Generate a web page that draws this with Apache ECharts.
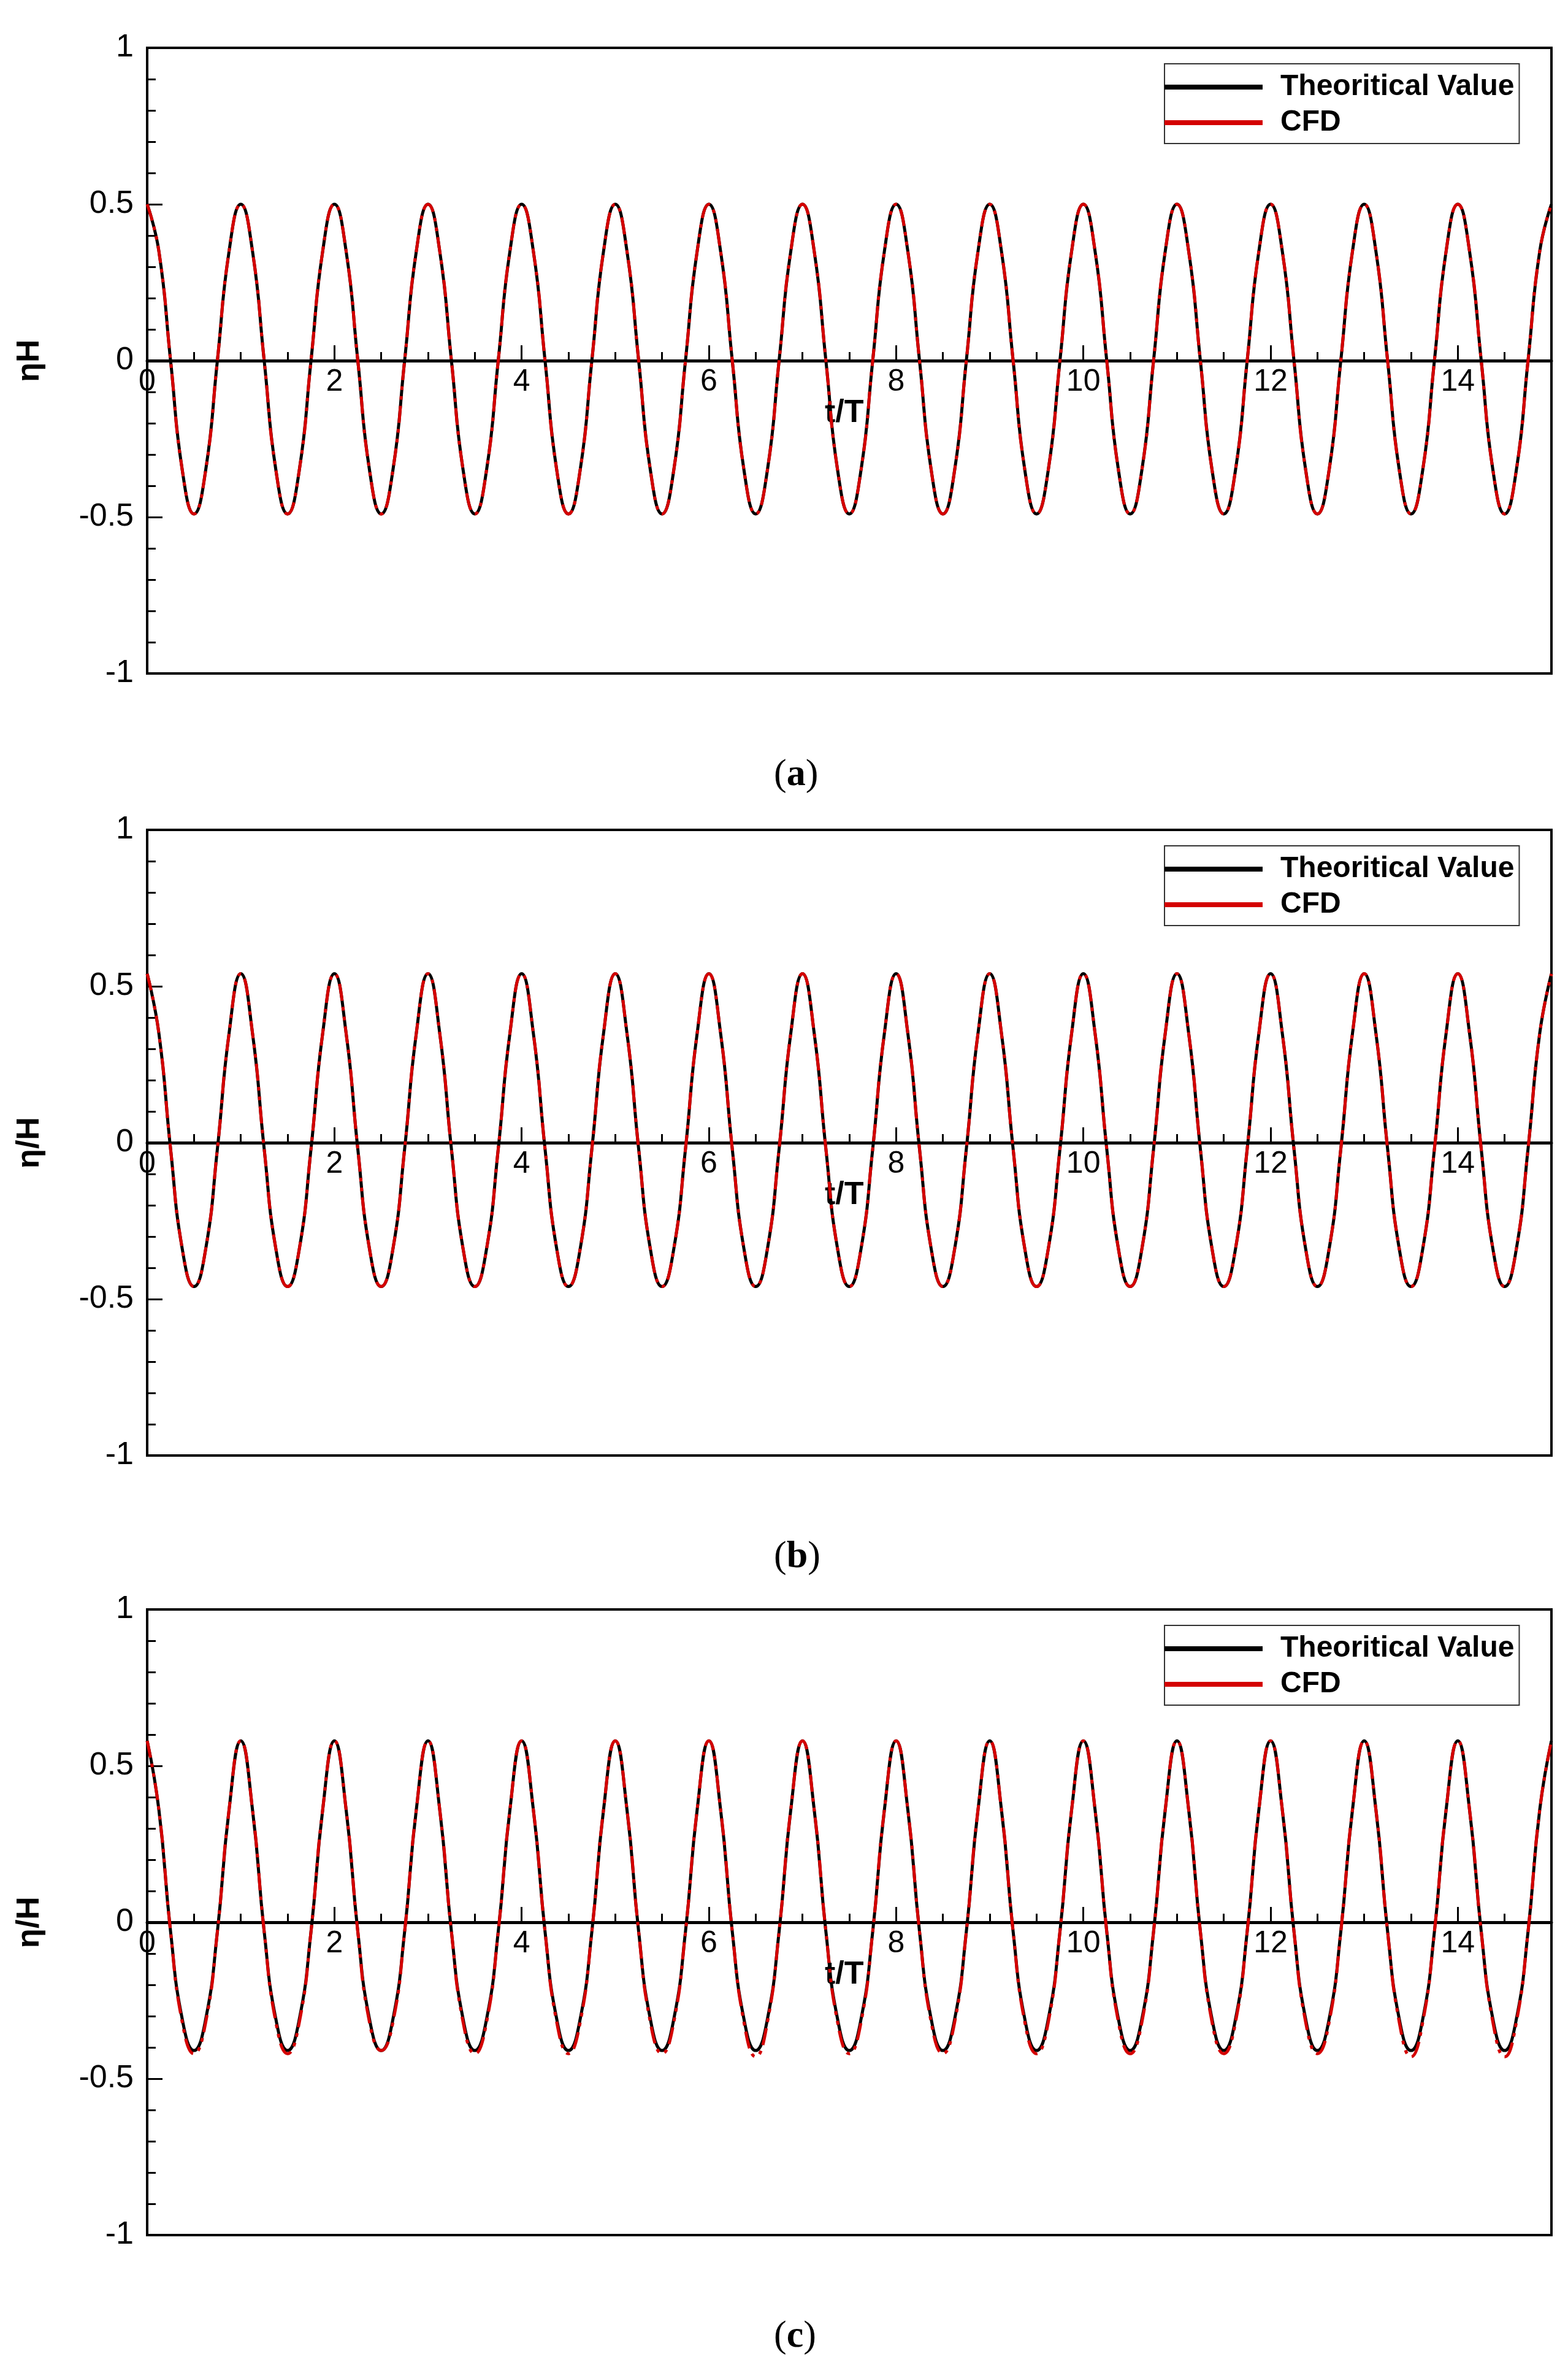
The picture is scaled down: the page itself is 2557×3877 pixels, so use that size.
<!DOCTYPE html>
<html>
<head>
<meta charset="utf-8">
<script src="https://cdn.jsdelivr.net/npm/echarts@6/dist/echarts.min.js"></script>
<style>
  html, body { margin: 0; padding: 0; background: #fff; }
  #chart { width: 2557px; height: 3877px; }
</style>
</head>
<body>
<div id="chart"></div>
<script>
// one sample every 1/8 period, cycles (crest at integer t/T)
var cycles = 15;
var shapeA_theory = [0.50, 0.35, 0.00, -0.35, -0.49, -0.35, 0.00, 0.35];
var shapeA_cfd    = [0.50, 0.35, 0.00, -0.35, -0.49, -0.35, 0.00, 0.35];
var shapeB_theory = [0.54, 0.35, -0.02, -0.34, -0.46, -0.34, -0.02, 0.35];
var shapeB_cfd    = [0.54, 0.35, -0.02, -0.34, -0.46, -0.34, -0.02, 0.35];
var shapeC_theory = [0.58, 0.36, -0.03, -0.31, -0.41, -0.31, -0.03, 0.36];
var shapeC_cfd    = [0.58, 0.36, -0.03, -0.32, -0.42, -0.32, -0.03, 0.36];
var cfdTroughC    = [-0.42, -0.42, -0.41, -0.42, -0.42, -0.42, -0.43, -0.42, -0.42, -0.42, -0.42, -0.42, -0.42, -0.43, -0.43];
var yLabels = ['ηH', 'η/H', 'η/H'];
var captions = ['a', 'b', 'c'];
var gridTops = [78, 1353, 2624];

function buildSeries(shape, troughs) {
  var out = [];
  for (var k = 0; k < cycles; k++) {
    for (var j = 0; j < 8; j++) {
      var v = shape[j];
      if (j === 4 && troughs) v = troughs[k];
      out.push([k + j / 8, v]);
    }
  }
  out.push([cycles, shape[0]]);
  return out;
}

var panels = [
  [buildSeries(shapeA_theory), buildSeries(shapeA_cfd)],
  [buildSeries(shapeB_theory), buildSeries(shapeB_cfd)],
  [buildSeries(shapeC_theory), buildSeries(shapeC_cfd, cfdTroughC)]
];

var font = 'Liberation Sans, Arial, sans-serif';
var grids = [], xAxes = [], yAxes = [], series = [], graphics = [], legends = [];

for (var i = 0; i < 3; i++) {
  grids.push({ left: 240, width: 2290, top: gridTops[i], height: 1020, show: true,
    borderColor: '#000', borderWidth: 4, backgroundColor: 'transparent' });
  xAxes.push({
    type: 'value', gridIndex: i, min: 0, max: 15, interval: 2,
    axisLine: { onZero: true, lineStyle: { color: '#000', width: 5 } },
    axisTick: { inside: true, length: 25, lineStyle: { color: '#000', width: 3 } },
    minorTick: { show: true, splitNumber: 4, length: 14, lineStyle: { color: '#000', width: 3 } },
    // labels sit just under the zero line, not at the bottom of the box
    axisLabel: { color: '#000', fontSize: 50, fontFamily: font, margin: -500,
      formatter: function (v) { return v >= 15 ? '' : v; } },
    splitLine: { show: false }
  });
  yAxes.push({
    type: 'value', gridIndex: i, min: -1, max: 1, interval: 0.5,
    name: yLabels[i], nameLocation: 'middle', nameGap: 165, nameRotate: 90,
    nameTextStyle: { color: '#000', fontSize: 52, fontWeight: 'bold', fontFamily: font },
    axisLine: { onZero: false, lineStyle: { color: '#000', width: 4 } },
    axisTick: { inside: true, length: 25, lineStyle: { color: '#000', width: 3 } },
    minorTick: { show: true, splitNumber: 5, length: 14, lineStyle: { color: '#000', width: 3 } },
    axisLabel: { color: '#000', fontSize: 52, fontFamily: font, margin: 22 },
    splitLine: { show: false }
  });
  series.push({
    name: 'Theoritical Value', type: 'line', xAxisIndex: i, yAxisIndex: i,
    data: panels[i][0], smooth: 0.5, showSymbol: false,
    lineStyle: { color: '#000', width: 5 }, itemStyle: { color: '#000' }
  });
  series.push({
    name: 'CFD', type: 'line', xAxisIndex: i, yAxisIndex: i,
    data: panels[i][1], smooth: 0.5, showSymbol: false,
    lineStyle: { color: '#d40000', width: 5, type: [28, 10, 6, 10, 6, 10] },
    itemStyle: { color: '#d40000' }
  });
  legends.push({
    left: 1899, top: gridTops[i] + 26, orient: 'vertical', itemWidth: 160, itemHeight: 8,
    itemGap: 10, padding: [14, 8, 10, 0], borderColor: '#333', borderWidth: 2,
    data: [{ name: 'Theoritical Value', icon: 'rect' }, { name: 'CFD', icon: 'rect' }],
    textStyle: { color: '#000', fontSize: 48, fontWeight: 'bold', fontFamily: font, padding: [0, 0, 0, 24] }
  });
  graphics.push({
    type: 'text', left: 1345, top: gridTops[i] + 570,
    style: { text: 't/T', fontSize: 52, fontWeight: 'bold', fontFamily: font, fill: '#000' }
  });
  graphics.push({
    type: 'text', left: 1262, top: gridTops[i] + 1155,
    style: {
      text: '{n|(}{b|' + captions[i] + '}{n|)}',
      rich: {
        n: { fontSize: 62, fontFamily: 'Liberation Serif, serif', fill: '#000' },
        b: { fontSize: 62, fontWeight: 'bold', fontFamily: 'Liberation Serif, serif', fill: '#000' }
      }
    }
  });
}

var chart = echarts.init(document.getElementById('chart'));
chart.setOption({
  animation: false,
  backgroundColor: '#fff',
  grid: grids, xAxis: xAxes, yAxis: yAxes,
  legend: legends, series: series, graphic: graphics
});
</script>
</body>
</html>
